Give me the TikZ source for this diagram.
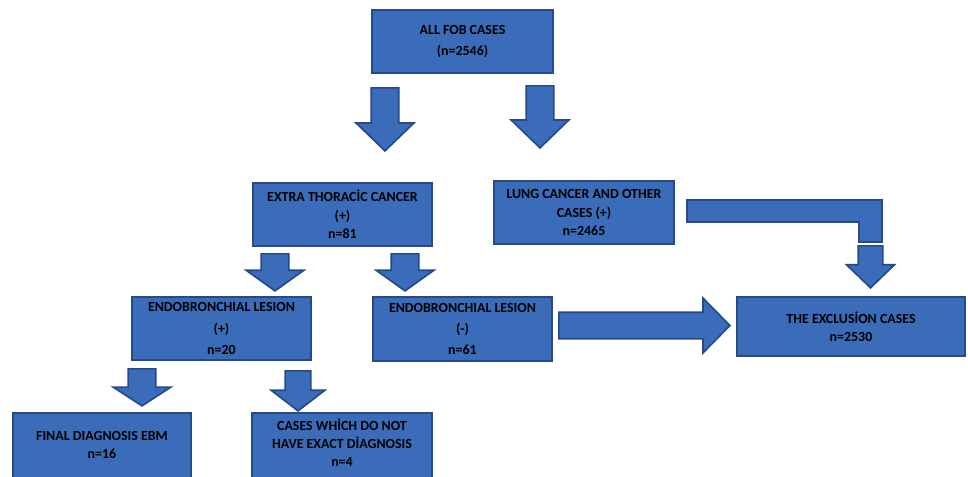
\documentclass[tikz,border=0pt]{standalone}
\usepackage{fontspec}
\setmainfont{Carlito}
\usetikzlibrary{shapes,arrows,positioning,calc}
\definecolor{boxblue}{RGB}{58,108,186}
\definecolor{boxline}{RGB}{37,74,138}

\begin{document}
\begin{tikzpicture}[
  x=0.025cm, y=-0.025cm,
  box/.style={rectangle, draw=boxline, fill=boxblue, line width=1.2pt, minimum width=4.5cm, minimum height=1.575cm, align=center, inner sep=2pt, font=\fontsize{9.9}{13}\selectfont\bfseries},
  txt/.style={align=center, inner sep=0pt, font=\fontsize{9.9}{13}\selectfont\bfseries},
  barrow/.style={single arrow, draw=boxline, fill=boxblue, line width=1.2pt, inner xsep=0pt, inner ysep=0.325cm, single arrow head extend=0.375cm, anchor=tail},
  dbarrow/.style={barrow, rotate=-90},
  bar/.style={draw=boxline, fill=boxblue, line width=1.2pt, line join=miter}
]
  \useasboundingbox (0,0) rectangle (968,476);
  \clip (0,0) rectangle (968,476);

  % boxes
  \node[box, minimum width=4.525cm] (fob) at (462.5,41.5) {ALL FOB CASES\\[2pt](n=2546)};
  \node[box, minimum width=4.475cm] (extra) at (342.5,214.5) {EXTRA THORACİC CANCER\\(+)\\n=81};
  \node[box] (lung) at (584,212.5) {LUNG CANCER AND OTHER\\CASES (+)\\n=2465};
  \node[box, minimum width=4.475cm] (endop) at (221.5,328.5) {ENDOBRONCHIAL LESION\\[2pt](+)\\[2pt]n=20};
  \node[box, minimum width=4.475cm, minimum height=1.6cm] (endom) at (462.5,329) {ENDOBRONCHIAL LESION\\[2pt](-)\\[2pt]n=61};
  \node[box, minimum width=5.7cm, minimum height=1.475cm] (excl) at (851,326.5) {THE EXCLUSİON CASES\\n=2530};
  \node[box, minimum width=4.45cm, minimum height=2.2cm, anchor=north] (final) at (102,412) {};
  \node[txt, below=0.47cm of final.north, anchor=north] (finaltxt) {FINAL DIAGNOSIS EBM\\n=16};
  \node[box, minimum width=4.5cm, minimum height=2.2cm, anchor=north] (cases) at (342,412) {};
  \node[txt, below=0.16cm of cases.north, anchor=north] (casestxt) {CASES WHİCH DO NOT\\HAVE EXACT DİAGNOSIS\\n=4};

  % block arrows
  \node[dbarrow, minimum height=1.575cm, single arrow tip angle=92] (a1) at (385,87) {};
  \node[dbarrow, minimum height=1.55cm, single arrow tip angle=92] (a2) at (540,85) {};
  \node[dbarrow, minimum height=0.925cm, single arrow tip angle=109] (a3) at (275,253) {};
  \node[dbarrow, minimum height=0.925cm, single arrow tip angle=109] (a4) at (405,253) {};
  \node[dbarrow, minimum height=0.925cm, single arrow tip angle=114] (a5) at (142,368) {};
  \node[dbarrow, minimum height=1.0cm, inner ysep=0.3cm, single arrow head extend=0.35cm, single arrow tip angle=105] (a6) at (298,370) {};
  \node[dbarrow, minimum height=1.05cm, inner ysep=0.2875cm, single arrow head extend=0.2875cm, single arrow tip angle=92] (a7) at (870.5,245) {};
  \node[barrow, minimum height=4.275cm, inner ysep=0.3125cm, single arrow head extend=0.35cm, single arrow tip angle=91] (a8) at (558,325.5) {};
  \draw[bar] (687,200) -- (882,200) -- (882,242) -- (859,242) -- (859,222) -- (687,222) -- cycle;
\end{tikzpicture}
\end{document}
